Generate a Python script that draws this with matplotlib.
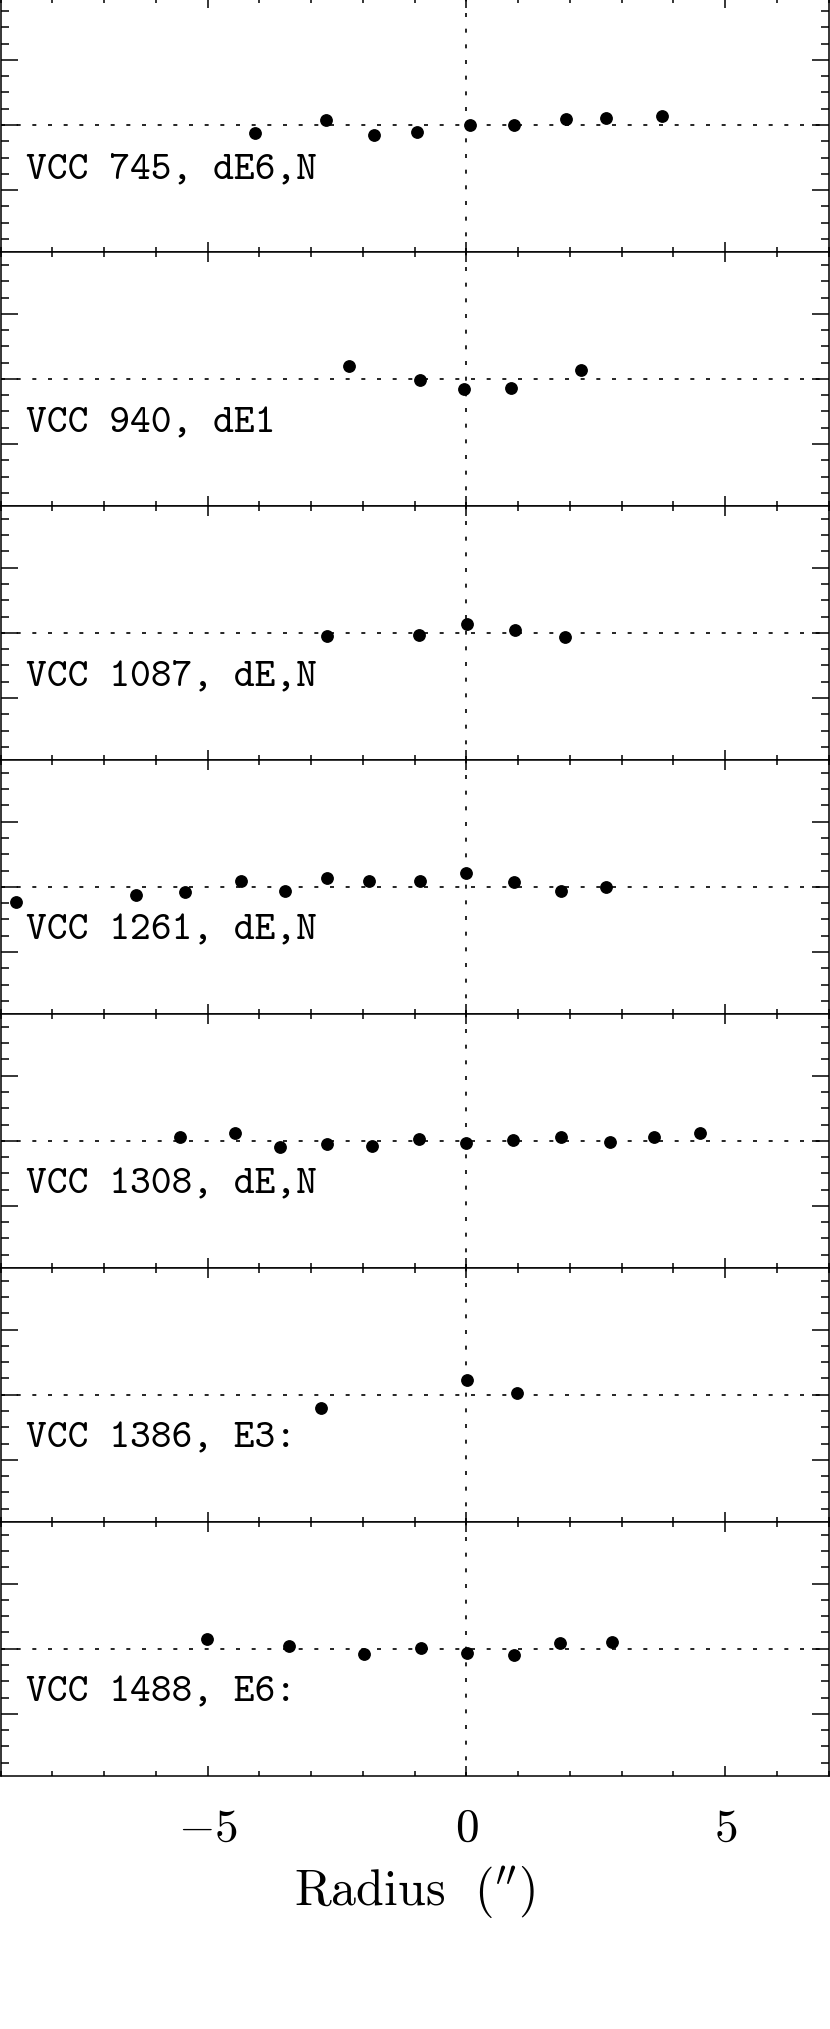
import matplotlib
matplotlib.use("Agg")
import matplotlib.pyplot as plt
from matplotlib.ticker import MultipleLocator, FixedLocator

plt.rcParams['mathtext.fontset'] = 'cm'

# ---- data (radius in arcsec, velocity offset) ----
galaxy_labels = ["VCC 745, dE6,N", "VCC 940, dE1", "VCC 1087, dE,N",
                 "VCC 1261, dE,N", "VCC 1308, dE,N", "VCC 1386, E3:",
                 "VCC 1488, E6:"]

r_745 = [-4.08, -2.71, -1.79, -0.95, 0.07, 0.91, 1.93, 2.70, 3.77]
v_745 = [-5.1, 3.3, -6.2, -4.1, 0.0, 0.2, 3.9, 4.1, 5.3]

r_940 = [-2.26, -0.90, -0.05, 0.86, 2.21]
v_940 = [8.0, -0.4, -5.9, -5.5, 5.3]

r_1087 = [-2.69, -0.92, 0.01, 0.93, 1.90]
v_1087 = [-2.1, -1.0, 5.5, 1.6, -2.3]

r_1261 = [-8.71, -6.39, -5.43, -4.35, -3.50, -2.69, -1.88, -0.89, -0.01, 0.92, 1.83, 2.70]
v_1261 = [-9.4, -4.7, -2.9, 3.9, -2.7, 5.5, 3.3, 3.3, 8.4, 3.1, -2.3, 0.0]

r_1308 = [-5.54, -4.48, -3.61, -2.69, -1.83, -0.91, 0.00, 0.90, 1.82, 2.77, 3.62, 4.52]
v_1308 = [2.5, 4.9, -3.7, -2.1, -3.3, 1.0, -1.2, 0.2, 2.3, -0.6, 2.1, 4.5]

r_1386 = [-2.81, 0.02, 0.97]
v_1386 = [-8.0, 8.8, 1.2]

r_1488 = [-5.01, -3.43, -1.97, -0.88, 0.01, 0.91, 1.81, 2.82]
v_1488 = [5.9, 1.6, -3.1, 0.2, -2.5, -4.1, 3.5, 4.1]

x_tick_values = [-5, 0, 5]
x_tick_labels = [r'$-5$', r'$0$', r'$5$']
x_label = r'$\mathrm{Radius}\ \ (^{\prime\prime})$'

radii = [r_745, r_940, r_1087, r_1261, r_1308, r_1386, r_1488]
vels = [v_745, v_940, v_1087, v_1261, v_1308, v_1386, v_1488]

# ---- figure ----
W, H = 830, 2029
fig = plt.figure(figsize=(W / 100, H / 100), dpi=100)
axes = fig.subplots(7, 1, sharex=True, gridspec_kw=dict(hspace=0))
fig.subplots_adjust(left=0.6 / W, right=828.7 / W,
                    top=1 + 2.0 / H, bottom=1 - 1775.7 / H)

dot = (0, (2.4, 7.0))
for i, ax in enumerate(axes):
    ax.set_xlim(-9, 7)
    ax.set_ylim(-78, 78)
    ax.axhline(0, color='k', lw=1.2, ls=dot, zorder=1)
    ax.axvline(0, color='k', lw=1.2, ls=dot, zorder=1)
    ax.plot(radii[i], vels[i], 'o', color='k', ms=8.2, mec='k', zorder=3,
            clip_on=True)
    ax.text(-8.5, -32.6, galaxy_labels[i], family='cmtt10', fontsize=28.5,
            ha='left', va='baseline')
    for s in ax.spines.values():
        s.set_linewidth(1.1)
    ax.xaxis.set_major_locator(FixedLocator(x_tick_values))
    ax.xaxis.set_minor_locator(MultipleLocator(1))
    ax.yaxis.set_major_locator(MultipleLocator(40))
    ax.yaxis.set_minor_locator(MultipleLocator(10))
    ax.tick_params(axis='x', which='major', direction='in', length=7.2,
                   width=1.1, top=True, bottom=True)
    ax.tick_params(axis='x', which='minor', direction='in', length=3.6,
                   width=1.1, top=True, bottom=True)
    ax.tick_params(axis='y', which='major', direction='in', length=12,
                   width=1.1, left=True, right=True, labelleft=False)
    ax.tick_params(axis='y', which='minor', direction='in', length=6,
                   width=1.1, left=True, right=True)
    if i < 6:
        ax.tick_params(axis='x', labelbottom=False)

axb = axes[-1]
axb.set_xticklabels(x_tick_labels)
axb.tick_params(axis='x', which='major', labelsize=34, pad=22)
axb.set_xlabel(x_label, fontsize=36, labelpad=9)

fig.savefig("out.png", dpi=100)
